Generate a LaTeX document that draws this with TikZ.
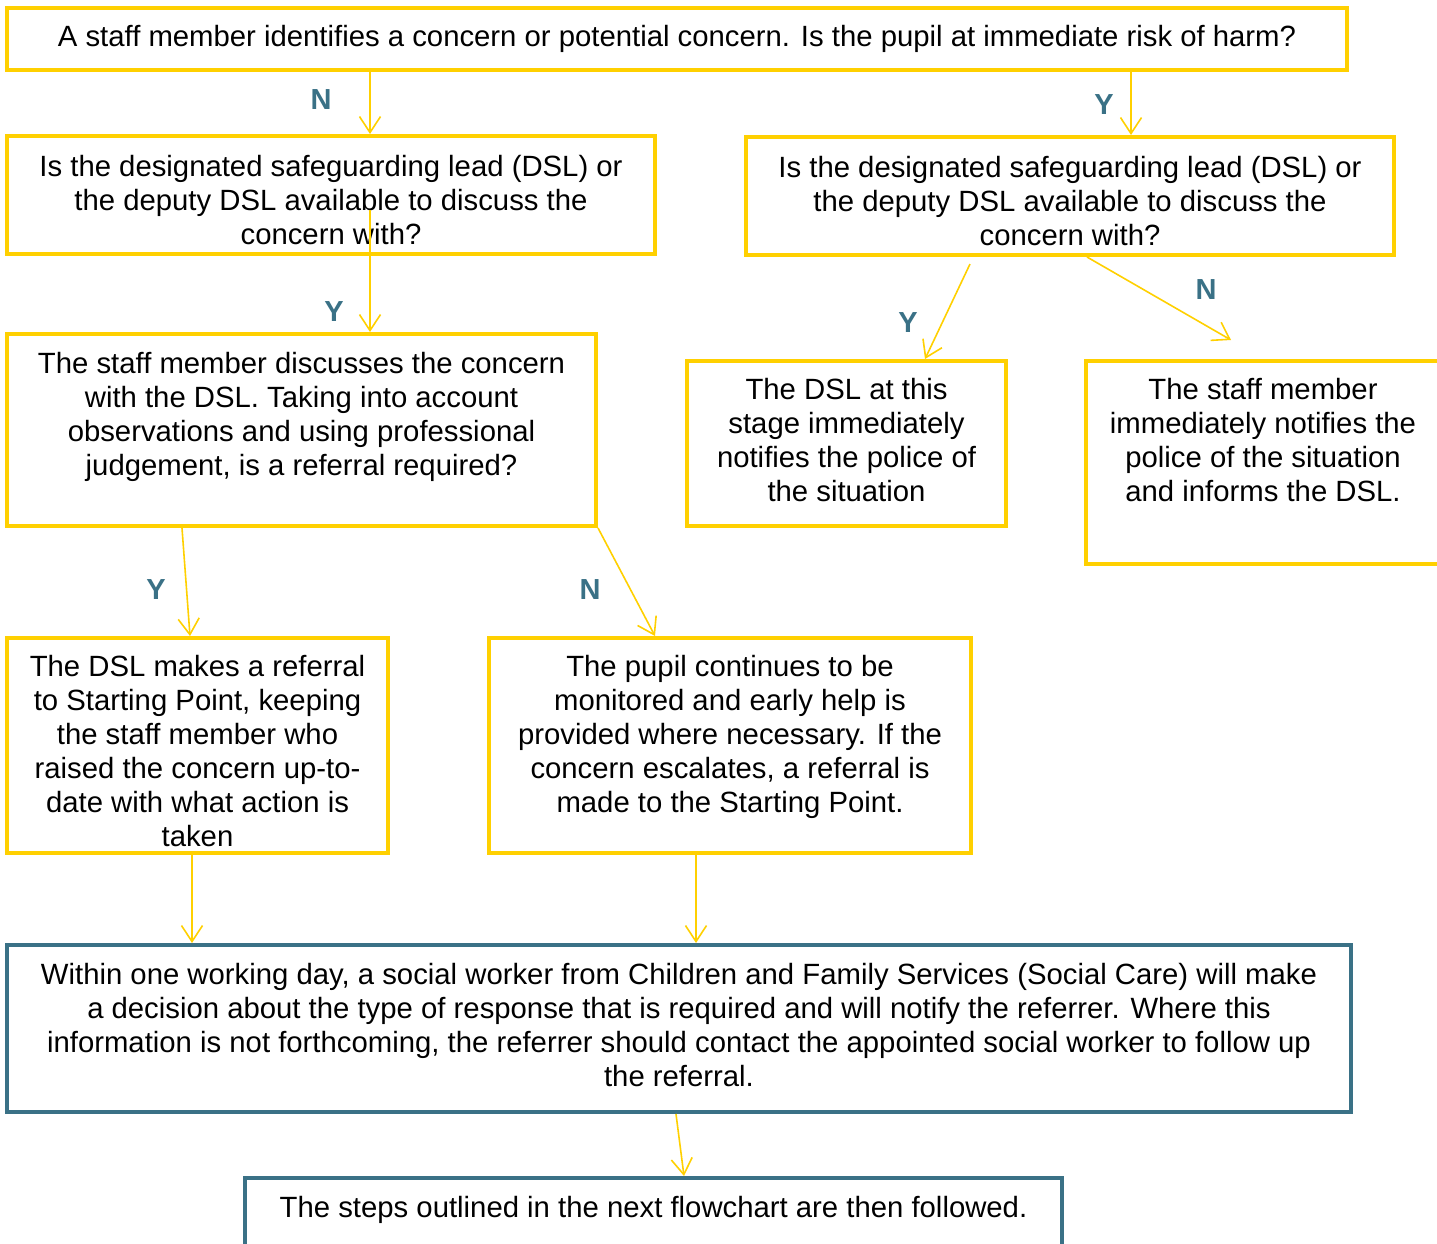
\documentclass[tikz,border=0pt]{standalone}
\usepackage{fontspec}
\setmainfont{Liberation Sans}
\usetikzlibrary{arrows.meta,calc,positioning}
\definecolor{flowyellow}{HTML}{FFD000}
\definecolor{flowteal}{HTML}{3A7186}
\tikzstyle{block} = [rectangle,draw=flowyellow,line width=4pt,align=center,inner sep=0pt,font=\fontsize{29.3}{34}\selectfont]
\tikzstyle{tealblock} = [block,draw=flowteal]
\tikzstyle{line} = [draw=flowyellow,line width=1.6pt,-{Straight Barb[length=16pt,width=21pt]}]
\tikzstyle{yn} = [text=flowteal,font=\fontsize{29}{34}\selectfont\bfseries]

\begin{document}
\begin{tikzpicture}[x=1pt,y=-1pt]
            \useasboundingbox (0,0) rectangle (1437,1243);
            % boxes
            \node[block,minimum width=1340pt,minimum height=62pt,text depth=6pt] (concern) at (677,39)
              {A staff member identifies a concern or potential concern. Is the pupil at immediate risk of harm?};
            \node[block,minimum width=648pt,minimum height=118pt,text height=98pt,text depth=0pt] (dslno) at (331,195)
              {Is the designated safeguarding lead (DSL) or\\the deputy DSL available to discuss the\\concern with?};
            \node[block,minimum width=648pt,minimum height=118pt,text height=98pt,text depth=0pt] (dslyes) at (1070,196)
              {Is the designated safeguarding lead (DSL) or\\the deputy DSL available to discuss the\\concern with?};
            \node[block,minimum width=589pt,minimum height=192pt,text depth=32pt] (discuss) at (301.5,430)
              {The staff member discusses the concern\\with the DSL. Taking into account\\observations and using professional\\judgement, is a referral required?};
            \node[block,minimum width=319pt,minimum height=165pt,text depth=7pt] (dslpolice) at (846.5,443.5)
              {The DSL at this\\stage immediately\\notifies the police of\\the situation};
            \node[block,minimum width=354pt,minimum height=203pt,text depth=45pt] (staffpolice) at (1263,462.5)
              {The staff member\\immediately notifies the\\police of the situation\\and informs the DSL.};
            \node[block,minimum width=381pt,minimum height=215pt,text height=201pt,text depth=0pt] (referral) at (197.5,745.5)
              {The DSL makes a referral\\to Starting Point, keeping\\the staff member who\\raised the concern up-to-\\date with what action is\\taken};
            \node[block,minimum width=482pt,minimum height=215pt,text depth=23pt] (monitor) at (730,745.5)
              {The pupil continues to be\\monitored and early help is\\provided where necessary. If the\\concern escalates, a referral is\\made to the Starting Point.};
            \node[tealblock,minimum width=1344pt,minimum height=167pt,text depth=7pt] (social) at (679,1028.5)
              {Within one working day, a social worker from Children and Family Services (Social Care) will make\\a decision about the type of response that is required and will notify the referrer. Where this\\information is not forthcoming, the referrer should contact the appointed social worker to follow up\\the referral.};
            \node[tealblock,minimum width=817pt,minimum height=114pt,text depth=56pt] (steps) at (653.5,1235)
              {The steps outlined in the next flowchart are then followed.};
            % connectors
            \draw[line] (concern.south -| 370,0) -- (dslno.north -| 370,0);
            \draw[line] (concern.south -| 1131,0) -- (dslyes.north -| 1131,0);
            \draw[line] ($(dslno.south -| 370,0)+(0,-46)$) -- (discuss.north -| 370,0);
            \draw[line] ($(dslyes.south -| 970,0)+(0,7)$) -- (dslpolice.north -| 925,0);
            \draw[line] (dslyes.south -| 1087,0) -- ($(staffpolice.north -| 1231,0)+(0,-19)$);
            \draw[line] (discuss.south -| 182,0) -- (referral.north -| 190,0);
            \draw[line] (discuss.south east) -- (monitor.north -| 655,0);
            \draw[line] (referral.south -| 192,0) -- (social.north -| 192,0);
            \draw[line] (monitor.south -| 696,0) -- (social.north -| 696,0);
            \draw[line] (social.south -| 676,0) -- (steps.north -| 684,0);
            % answers
            \node[yn] (n1) at (321,100) {N};
            \node[yn] (y1) at (1104,105) {Y};
            \node[yn] (y2) at (334,312) {Y};
            \node[yn] (y3) at (908,323) {Y};
            \node[yn] (n2) at (1206,290) {N};
            \node[yn] (y4) at (156,590) {Y};
            \node[yn] (n3) at (590,590) {N};
        \end{tikzpicture}
\end{document}
